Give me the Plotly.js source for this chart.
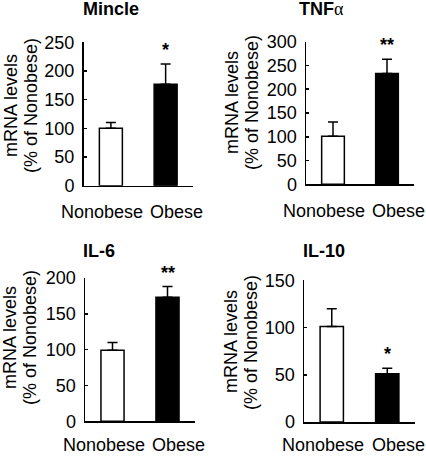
<!DOCTYPE html>
<html><head><meta charset="utf-8">
<script src="https://cdn.plot.ly/plotly-3.0.1.min.js"></script>
<style>html,body{margin:0;padding:0;background:#fff}</style>
</head><body><div id="chart" style="width:426px;height:456px"></div>
<script>
// ---- data ----
const groups = ['Nonobese', 'Obese'];
const panelTitles = ['Mincle', 'TNF<span style="font-family:\'Liberation Serif\';font-weight:normal">α</span>', 'IL-6', 'IL-10'];
const mincleValues = [100, 177];
const mincleErr = [10, 35];
const tnfValues = [101, 233];
const tnfErr = [30, 30];
const il6Values = [99, 173];
const il6Err = [11, 15];
const il10Values = [101, 51];
const il10Err = [19, 6];
const mincleSig = ['', '*'];
const tnfSig = ['', '**'];
const il6Sig = ['', '**'];
const il10Sig = ['', '*'];
const yMax = [250, 300, 200, 150];
const yTitleLines = ['mRNA levels', '(% of Nonobese)'];

// ---- layout helpers (pixel boxes) ----
const W = 426, H = 456;
const boxes = [
  {l: 83.5, r: 193, t: 42.3, b: 185.7, titleY: 9, titleX: 111, ytX: 21, ytY: 106, labDy: 26},
  {l: 306, r: 414, t: 41.7, b: 184.3, titleY: 9, titleX: 321, ytX: 242, ytY: 103, labDy: 27},
  {l: 85, r: 195, t: 278, b: 421.3, titleY: 251, titleX: 99, ytX: 20, ytY: 338, labDy: 23.5},
  {l: 304, r: 415, t: 280.3, b: 422, titleY: 251, titleX: 324, ytX: 241, ytY: 342, labDy: 23}
];
const px = x => x / W;
const py = y => 1 - y / H;

const values = [mincleValues, tnfValues, il6Values, il10Values];
const errs = [mincleErr, tnfErr, il6Err, il10Err];
const sigs = [mincleSig, tnfSig, il6Sig, il10Sig];
const font = 'Liberation Sans, Arial, sans-serif';

const traces = [];
const layout = {
  width: W, height: H,
  margin: {l: 0, r: 0, t: 0, b: 0},
  paper_bgcolor: '#fff', plot_bgcolor: '#fff',
  showlegend: false,
  font: {family: font, size: 18, color: '#000'},
  annotations: []
};

for (let i = 0; i < 4; i++) {
  const s = i === 0 ? '' : String(i + 1);
  const b = boxes[i];
  traces.push({
    type: 'bar', x: groups, y: values[i], xaxis: 'x' + s, yaxis: 'y' + s,
    width: 0.42,
    marker: {color: ['#ffffff', '#000000'], line: {color: '#000', width: 1.5}},
    error_y: {type: 'data', symmetric: false, array: errs[i], arrayminus: [0, 0],
              color: '#000', thickness: 1.5, width: 5},
    hoverinfo: 'skip'
  });
  layout['xaxis' + s] = {
    domain: [px(b.l), px(b.r)], anchor: 'y' + s, type: 'category',
    range: [-0.5, 1.5], showline: true, linecolor: '#000', linewidth: 1.5,
    ticks: '', showticklabels: false, showgrid: false, zeroline: false, fixedrange: true
  };
  layout['yaxis' + s] = {
    domain: [py(b.b), py(b.t)], anchor: 'x' + s,
    range: [0, yMax[i]], dtick: 50, tick0: 0,
    showline: true, linecolor: '#000', linewidth: 1.5,
    ticks: 'inside', ticklen: 3, tickwidth: 1.5, tickcolor: '#000',
    ticklabelstandoff: 4,
    tickfont: {family: font, size: 18, color: '#000'},
    showgrid: false, zeroline: false, fixedrange: true
  };
  // panel title
  layout.annotations.push({
    xref: 'paper', yref: 'paper', x: px(b.titleX), y: py(b.titleY),
    xanchor: 'center', yanchor: 'middle', showarrow: false,
    text: '<b>' + panelTitles[i] + '</b>', font: {family: font, size: 18, color: '#000'}
  });
  // y-axis title, one annotation per line
  yTitleLines.forEach((line, k) => {
    layout.annotations.push({
      xref: 'paper', yref: 'paper', x: px(b.ytX + (k === 0 ? -10 : 10)), y: py(b.ytY),
      xanchor: 'center', yanchor: 'middle', showarrow: false, textangle: -90,
      text: line, font: {family: font, size: 18, color: '#000'}
    });
  });
  // category labels
  groups.forEach((g, j) => {
    layout.annotations.push({
      xref: 'x' + s, yref: 'paper', x: g, y: py(b.b + b.labDy),
      xanchor: 'center', yanchor: 'middle', showarrow: false,
      xshift: j === 0 ? -9 : 11,
      text: g, font: {family: font, size: 18, color: '#000'}
    });
  });
  // significance marks
  groups.forEach((g, j) => {
    if (!sigs[i][j]) return;
    layout.annotations.push({
      xref: 'x' + s, yref: 'y' + s, x: g, y: values[i][j] + errs[i][j],
      xanchor: 'center', yanchor: 'bottom', showarrow: false, yshift: 2,
      text: '<b>' + sigs[i][j] + '</b>', font: {family: font, size: 18, color: '#000'}
    });
  });
}

Plotly.newPlot('chart', traces, layout, {staticPlot: true, displayModeBar: false});
</script>
</body></html>
